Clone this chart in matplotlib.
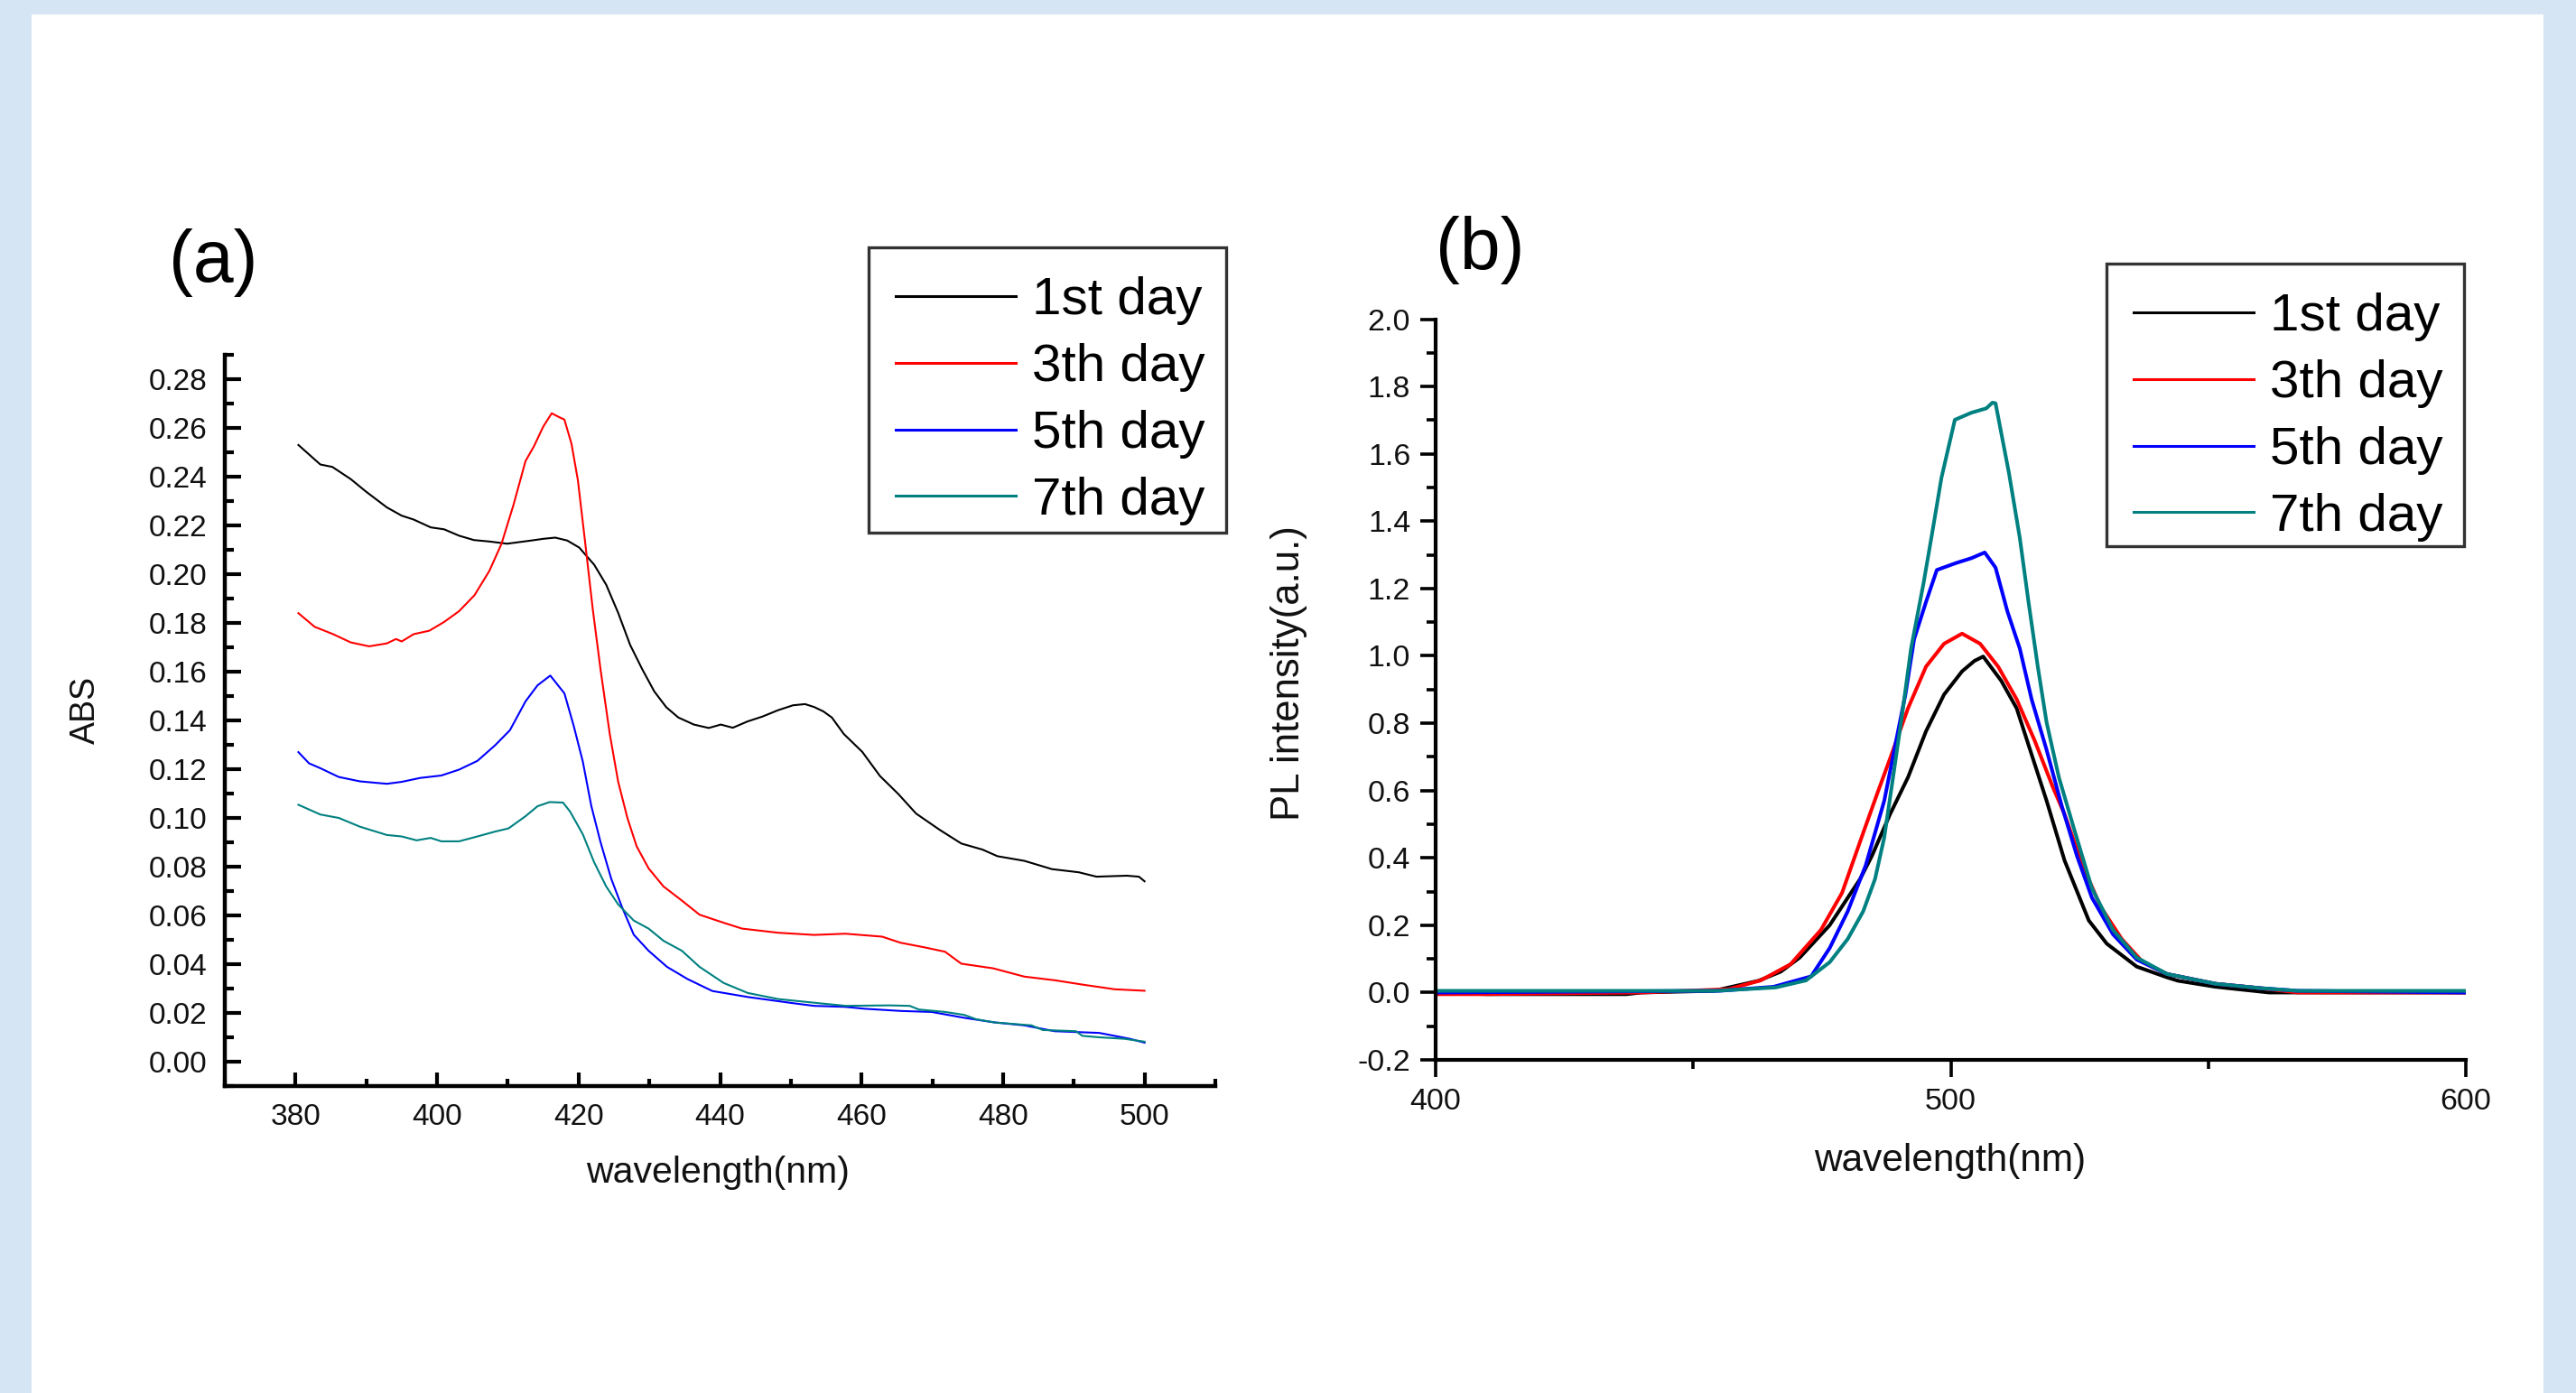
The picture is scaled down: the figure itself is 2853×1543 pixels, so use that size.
import matplotlib
matplotlib.use("Agg")
import matplotlib.pyplot as plt
from matplotlib.patches import Rectangle
from matplotlib.ticker import MultipleLocator, FormatStrFormatter

plt.rcParams['font.family'] = ['Liberation Sans', 'DejaVu Sans']
plt.rcParams['axes.unicode_minus'] = False

# ---------------- data: panel (a) absorbance ----------------
labels = ['1st day', '3th day', '5th day', '7th day']
colors = ['#000000', '#ff0000', '#0000ff', '#008080']

abs_wl_1 = [380.4, 383.5, 385.2, 387.8, 389.9, 392.9, 395.0, 396.7, 399.1, 401.0, 403.1, 405.2,
            407.4, 409.9, 413.3, 415.0, 416.7, 418.4, 420.1, 422.2, 423.9, 425.6, 427.3, 429.0,
            430.7, 432.4, 434.1, 436.3, 438.4, 440.1, 441.8, 443.9, 446.0, 448.2, 450.3, 452.0,
            453.3, 454.6, 455.8, 457.5, 460.1, 462.6, 465.2, 467.7, 471.1, 474.1, 477.1, 479.2,
            483.0, 486.9, 490.7, 493.2, 497.5, 499.2, 500.0]
abs_1 = [0.253, 0.245, 0.244, 0.239, 0.234, 0.2274, 0.224, 0.2224, 0.2192, 0.2184, 0.2158, 0.214,
         0.2134, 0.2125, 0.2138, 0.2145, 0.215, 0.2138, 0.2109, 0.2039, 0.1957, 0.1841, 0.1709, 0.161,
         0.1519, 0.1454, 0.1412, 0.1383, 0.1369, 0.1383, 0.137, 0.1396, 0.1416, 0.1442, 0.1462, 0.1467,
         0.1455, 0.1437, 0.1412, 0.1344, 0.1271, 0.1172, 0.1098, 0.1018, 0.095, 0.0895, 0.087, 0.0843,
         0.0824, 0.079, 0.0777, 0.0759, 0.0763, 0.0759, 0.074]

abs_wl_3 = [380.4, 382.7, 385.3, 387.8, 390.4, 392.9, 394.2, 395.0, 396.7, 398.9, 401.0, 403.1,
            405.3, 407.4, 409.1, 410.8, 412.5, 413.7, 415.0, 416.2, 417.2, 418.0, 419.0, 419.9,
            420.9, 422.0, 423.1, 424.4, 425.6, 426.9, 428.2, 429.9, 432.0, 434.6, 437.1, 440.5,
            443.1, 448.2, 453.3, 457.7, 462.9, 465.5, 468.9, 471.8, 474.1, 478.6, 483.0, 487.3,
            491.5, 495.8, 500.0]
abs_3 = [0.184, 0.1784, 0.1754, 0.172, 0.1704, 0.1716, 0.1734, 0.1724, 0.1754, 0.1768, 0.1804, 0.1848,
         0.1914, 0.2014, 0.2124, 0.2284, 0.2464, 0.2525, 0.2605, 0.266, 0.2645, 0.2634, 0.2535, 0.2386,
         0.2138, 0.1858, 0.161, 0.1346, 0.1148, 0.100, 0.0884, 0.0793, 0.0719, 0.0661, 0.0603, 0.057,
         0.0546, 0.0529, 0.052, 0.0525, 0.0513, 0.0488, 0.0469, 0.0451, 0.0402, 0.0383, 0.0349, 0.0334,
         0.0315, 0.0297, 0.0291]

abs_wl_5 = [380.4, 381.9, 383.5, 386.1, 389.1, 392.9, 395.0, 397.6, 400.6, 403.1, 405.7, 408.2,
            410.3, 412.5, 414.2, 416.0, 418.0, 419.3, 420.6, 421.8, 423.1, 424.6, 426.1, 427.8,
            429.9, 432.5, 435.4, 438.9, 444.0, 450.3, 453.3, 457.6, 460.5, 465.6, 469.9, 474.5,
            478.8, 483.0, 487.3, 493.6, 497.9, 500.0]
abs_5 = [0.127, 0.1224, 0.1204, 0.1168, 0.115, 0.114, 0.1148, 0.1164, 0.1174, 0.1198, 0.1234, 0.1298,
         0.136, 0.1478, 0.1544, 0.1584, 0.1511, 0.1379, 0.1231, 0.1049, 0.0901, 0.0752, 0.0637, 0.0521,
         0.0455, 0.0389, 0.0339, 0.029, 0.0265, 0.024, 0.0229, 0.0225, 0.0217, 0.0208, 0.0204, 0.018,
         0.0161, 0.0149, 0.0125, 0.0118, 0.0094, 0.0078]

abs_wl_7 = [380.4, 383.5, 386.1, 389.1, 392.9, 395.0, 397.1, 399.1, 400.6, 403.1, 405.7, 408.2,
            410.1, 412.5, 414.2, 415.9, 417.8, 418.8, 420.6, 422.2, 423.9, 425.6, 427.8, 429.9,
            432.0, 434.6, 437.1, 440.5, 443.9, 448.2, 454.6, 457.8, 463.9, 466.8, 468.1, 471.8,
            474.5, 476.2, 478.8, 484.0, 485.6, 490.3, 491.2, 493.6, 497.1, 500.0]
abs_7 = [0.1054, 0.1014, 0.100, 0.0964, 0.093, 0.0924, 0.0908, 0.0918, 0.0904, 0.0904, 0.0924, 0.0944,
         0.0957, 0.1007, 0.1048, 0.1065, 0.1063, 0.1026, 0.0933, 0.0818, 0.0719, 0.0645, 0.0579, 0.0546,
         0.0496, 0.0455, 0.0389, 0.0323, 0.0282, 0.0257, 0.0238, 0.0229, 0.0231, 0.0229, 0.0214, 0.0204,
         0.0192, 0.0174, 0.0161, 0.0149, 0.013, 0.0125, 0.0106, 0.0100, 0.0094, 0.0082]

# ---------------- data: panel (b) PL intensity ----------------
pl_wl_1 = [400, 410, 437, 440, 454.0, 462.7, 467.0, 470.7, 476.5, 482.4, 484.7, 488.2, 491.7, 495.2,
           498.7, 502.2, 504.6, 506.3, 509.8, 512.8, 515.7, 518.6, 522.1, 526.8, 530.3, 536.1, 542.0,
           544.1, 551.4, 561.8, 600]
pl_1 = [0.0, -0.005, -0.005, 0.0, 0.005, 0.035, 0.062, 0.104, 0.2, 0.337, 0.406, 0.529, 0.639, 0.776,
        0.885, 0.954, 0.985, 0.998, 0.926, 0.844, 0.707, 0.57, 0.392, 0.214, 0.145, 0.077, 0.045,
        0.035, 0.017, 0.0, 0.0]

pl_wl_3 = [400, 408, 440, 456.9, 463.1, 468.9, 474.8, 478.9, 483.0, 485.9, 488.2, 491.7, 495.2, 498.7,
           502.2, 505.7, 509.2, 512.8, 516.3, 519.8, 522.1, 525.6, 529.1, 533.2, 537.3, 542.0, 551.4,
           560.1, 567.4, 600]
pl_3 = [-0.005, -0.005, 0.0, 0.01, 0.036, 0.084, 0.186, 0.296, 0.474, 0.598, 0.694, 0.844, 0.968, 1.036,
        1.066, 1.036, 0.968, 0.871, 0.748, 0.611, 0.529, 0.378, 0.255, 0.159, 0.09, 0.055, 0.026,
        0.013, 0.0, 0.0]

pl_wl_5 = [400, 455, 465.6, 472.9, 476.5, 480.0, 483.5, 487.1, 489.4, 491.2, 492.9, 495.2, 497.3, 501.1,
           504.0, 506.6, 508.7, 511.0, 513.4, 515.7, 518.6, 521.5, 524.5, 527.4, 531.5, 536.1, 542.0,
           551.4, 560.1, 567.4, 600]
pl_5 = [0.0, 0.005, 0.017, 0.048, 0.132, 0.241, 0.378, 0.57, 0.748, 0.885, 1.05, 1.16, 1.255, 1.276,
        1.29, 1.307, 1.262, 1.132, 1.022, 0.871, 0.721, 0.557, 0.406, 0.282, 0.173, 0.098, 0.055,
        0.026, 0.013, 0.005, 0.0]

pl_wl_7 = [400, 454.3, 466.0, 471.9, 476.5, 480.0, 483.0, 485.3, 487.1, 488.8, 490.6, 492.3, 494.7,
           496.4, 498.2, 500.8, 504.0, 506.9, 508.1, 508.7, 511.3, 513.4, 515.1, 516.9, 518.6, 521.0,
           523.9, 527.4, 531.5, 536.1, 542.0, 551.4, 560.1, 567.4, 600]
pl_7 = [0.005, 0.005, 0.015, 0.036, 0.09, 0.159, 0.241, 0.337, 0.461, 0.639, 0.83, 1.022, 1.214,
        1.365, 1.529, 1.701, 1.722, 1.735, 1.752, 1.75, 1.543, 1.351, 1.16, 0.968, 0.803, 0.639,
        0.488, 0.31, 0.186, 0.104, 0.055, 0.026, 0.013, 0.005, 0.005]

abs_series = [(abs_wl_1, abs_1), (abs_wl_3, abs_3), (abs_wl_5, abs_5), (abs_wl_7, abs_7)]
pl_series = [(pl_wl_1, pl_1), (pl_wl_3, pl_3), (pl_wl_5, pl_5), (pl_wl_7, pl_7)]

# ---------------- figure ----------------
W, H = 2853, 1543
fig = plt.figure(figsize=(W / 100, H / 100), dpi=100)
fig.patch.set_facecolor('#d6e5f4')
fig.add_artist(Rectangle((35 / W, 0), (2817 - 35) / W, 1 - 16 / H, transform=fig.transFigure,
                         facecolor='white', edgecolor='none', zorder=-10))

def px_axes(l, t, r, b):
    return [l / W, 1 - b / H, (r - l) / W, (b - t) / H]

text_col = '#111111'
leg_kw = dict(borderaxespad=0, fontsize=42, handlelength=2.28, handletextpad=0.30, borderpad=0.33,
              labelspacing=0.34, frameon=False)

def legend_box(ax, l, t, r, b, content_dx=11, content_dy=13):
    # frame of the legend (drawn in figure pixels), then the entries inside it
    ax.add_patch(Rectangle((l / W, 1 - b / H), (r - l) / W, (b - t) / H, transform=fig.transFigure,
                           facecolor='white', edgecolor='#333333', lw=2.4, clip_on=False, zorder=4.5))
    leg = ax.legend(loc='upper left', bbox_to_anchor=((l + content_dx) / W, 1 - (t + content_dy) / H),
                    bbox_transform=fig.transFigure, **leg_kw)
    for ln in leg.get_lines():
        ln.set_linewidth(2.2)
    return leg

# ---------- panel (a) ----------
ax1 = fig.add_axes(px_axes(249, 393, 1346, 1203))
ax1.set_facecolor('none')
for (x, y), c, lab in zip(abs_series, colors, labels):
    ax1.plot(x, y, color=c, lw=1.5, label=lab)
ax1.set_xlim(370, 510)
ax1.set_ylim(-0.01, 0.29)
ax1.spines['top'].set_visible(False)
ax1.spines['right'].set_visible(False)
for s in ('left', 'bottom'):
    ax1.spines[s].set_linewidth(3.2)
ax1.xaxis.set_minor_locator(MultipleLocator(10))
ax1.yaxis.set_minor_locator(MultipleLocator(0.01))
ax1.set_xticks([380, 400, 420, 440, 460, 480, 500])
ax1.set_yticks([0.00, 0.02, 0.04, 0.06, 0.08, 0.10, 0.12, 0.14, 0.16, 0.18, 0.20, 0.22, 0.24, 0.26, 0.28])
ax1.yaxis.set_major_formatter(FormatStrFormatter('%.2f'))
ax1.tick_params(axis='both', which='both', direction='in', width=3, labelsize=24, labelcolor=text_col)
ax1.tick_params(axis='y', which='major', length=13, pad=14)
ax1.tick_params(axis='y', which='minor', length=7)
ax1.tick_params(axis='x', which='major', length=11, pad=14)
ax1.tick_params(axis='x', which='minor', length=6)
ax1.set_xlabel('wavelength(nm)', fontsize=29.5, va='center', color=text_col)
ax1.xaxis.set_label_coords((795 - 249) / 1097, (1203 - 1299) / 810)
ax1.set_ylabel('ABS', fontsize=27, va='center', color=text_col)
ax1.yaxis.set_label_coords((95 - 249) / 1097, (1203 - 786) / 810)
legend_box(ax1, 962, 274, 1358, 590)

# ---------- panel (b) ----------
ax2 = fig.add_axes(px_axes(1590, 353.5, 2731, 1174))
ax2.set_facecolor('none')
for (x, y), c, lab in zip(pl_series, colors, labels):
    ax2.plot(x, y, color=c, lw=2.9, label=lab)
ax2.set_xlim(400, 600)
ax2.set_ylim(-0.2, 2.0)
ax2.spines['top'].set_visible(False)
ax2.spines['right'].set_visible(False)
for s in ('left', 'bottom'):
    ax2.spines[s].set_linewidth(3.0)
ax2.set_xticks([400, 500, 600])
ax2.set_xticks([450, 550], minor=True)
ax2.yaxis.set_major_locator(MultipleLocator(0.2))
ax2.yaxis.set_minor_locator(MultipleLocator(0.1))
ax2.yaxis.set_major_formatter(FormatStrFormatter('%.1f'))
ax2.tick_params(axis='both', which='both', direction='out', width=2.6, labelsize=24.5, labelcolor=text_col)
ax2.tick_params(axis='y', which='major', length=12, pad=8)
ax2.tick_params(axis='y', which='minor', length=7)
ax2.tick_params(axis='x', which='major', length=14, pad=8)
ax2.tick_params(axis='x', which='minor', length=7)
ax2.set_xlabel('wavelength(nm)', fontsize=30.5, va='center', color=text_col)
ax2.xaxis.set_label_coords((2160 - 1590) / 1141, (1174 - 1286) / 820.5)
ax2.set_ylabel('PL intensity(a.u.)', fontsize=31.5, va='center', color=text_col)
ax2.yaxis.set_label_coords((1428 - 1590) / 1141, (1174 - 746) / 820.5)
legend_box(ax2, 2333, 292, 2729, 605)

# panel letters
fig.text(236 / W, 1 - 291 / H, '(a)', fontsize=58, ha='center', va='center', color='#000000')
fig.text(1639 / W, 1 - 277 / H, '(b)', fontsize=58, ha='center', va='center', color='#000000')

fig.savefig('out.png', dpi=100, facecolor=fig.get_facecolor())
